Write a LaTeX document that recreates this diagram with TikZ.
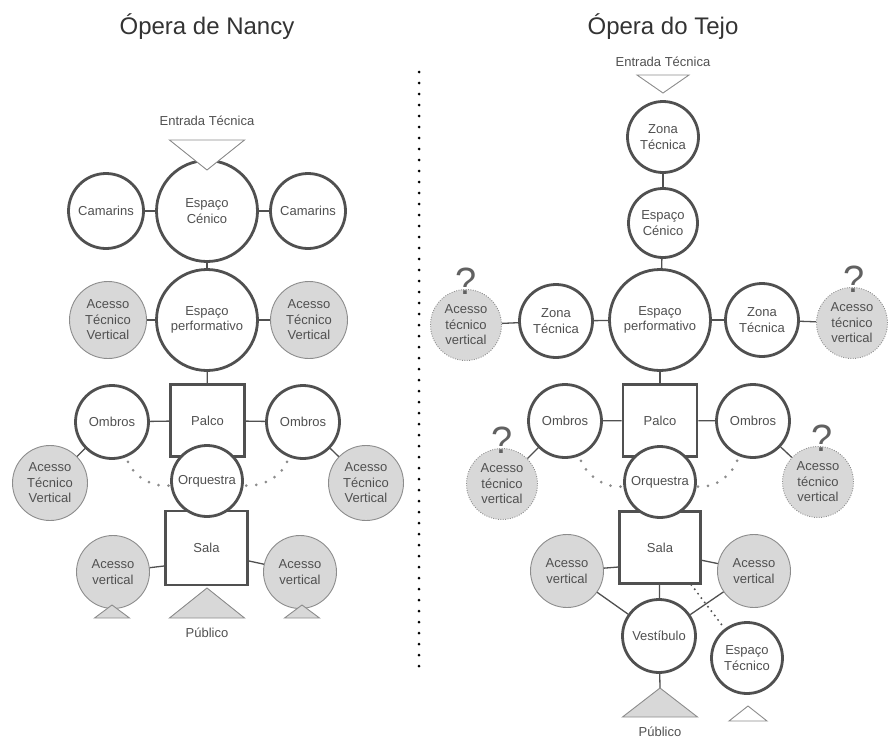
\documentclass[tikz,border=0pt]{standalone}
\usepackage{fontspec}
\setmainfont{Liberation Sans}
\usetikzlibrary{positioning}
\usetikzlibrary{calc}
\definecolor{edge}{RGB}{80,80,80}
\definecolor{ink}{RGB}{80,80,80}
\definecolor{shade}{RGB}{216,216,216}
\definecolor{rim}{RGB}{140,140,140}

\begin{document}
\begin{tikzpicture}[x=1pt, y=-1pt,
    every node/.style={font=\fontsize{13}{15.5}\selectfont, text=ink, align=center, inner sep=0pt},
    room/.style={circle, draw=edge, line width=2.8pt, fill=white, minimum size=#1},
    access/.style={circle, draw=rim, line width=0.9pt, fill=shade, minimum size=#1},
    doubt/.style={access=#1, dash pattern=on 0.9pt off 1.5pt},
    stage/.style={rectangle, draw=edge, line width=2.8pt, fill=white},
    title/.style={font=\fontsize{24}{28}\selectfont, text=black!80},
    qmark/.style={font=\fontsize{38}{38}\selectfont, text=edge!90, anchor=base},
    link/.style={draw=edge, line width=1.3pt},
    tri/.style={draw=rim, line width=0.9pt, fill=shade},
    hollow/.style={draw=rim, line width=0.9pt, fill=white},
    dotarc/.style={draw=rim, line width=3pt, line cap=round, dash pattern=on 0pt off 10pt, dash phase=5pt},
    dotline/.style={draw=edge, line width=2.2pt, line cap=round, dash pattern=on 0pt off 5.5pt},
    divider/.style={draw=black, line width=3pt, line cap=round, dash pattern=on 0pt off 11pt}]
    \useasboundingbox (0,0) rectangle (889,739);

    % titles
    \node[title] (titleL) at (207,27) {Ópera de Nancy};
    \node[title] (titleR) at (663,27) {Ópera do Tejo};

    % dotted divider
    \coordinate (divtop) at (419,72);
    \coordinate (divbot) at (419,668);
    \draw[divider] (divtop) -- (divbot);

    % Opera de Nancy: nodes
    \node[room=101] (cenL) at (207,211) {Espaço\\Cénico};
    \node[room=75] (camL1) at (106,211) {Camarins};
    \node[room=75] (camL2) at (308,211) {Camarins};
    \node[room=101] (perfL) at (207,320) {Espaço\\performativo};
    \node[access=77] (atvL1) at (108,320) {Acesso\\Técnico\\Vertical};
    \node[access=77] (atvL2) at (309,320) {Acesso\\Técnico\\Vertical};
    \node[stage, minimum width=74, minimum height=72] (palcoL) at (207.5,420.5) {Palco};
    \node[room=73] (ombL1) at (112,422) {Ombros};
    \node[room=73] (ombL2) at (303,422) {Ombros};
    \node[access=75] (atvL3) at (50,483) {Acesso\\Técnico\\Vertical};
    \node[access=75] (atvL4) at (366,483) {Acesso\\Técnico\\Vertical};
    \node[stage, minimum width=82, minimum height=74] (salaL) at (206.5,548) {Sala};
    \node[room=71] (orqL) at (207,481) {Orquestra};
    \node[access=73] (avL1) at (113,572) {Acesso\\vertical};
    \node[access=73] (avL2) at (300,572) {Acesso\\vertical};

    % Opera de Nancy: connectors
    \foreach \a/\b in {cenL/camL1, cenL/camL2, cenL/perfL, perfL/atvL1, perfL/atvL2,
                       perfL/palcoL, palcoL/ombL1, palcoL/ombL2, ombL1/atvL3, ombL2/atvL4}
      \draw[link] (\a) -- (\b);
    \draw[link] (avL1) -- (salaL.203);
    \draw[link] (salaL.343) -- (avL2);
    \draw[dotarc] (ombL1.-68) .. controls +(6,20) and +(-18,2) .. (orqL.187);
    \draw[dotarc] (ombL2.-112) .. controls +(-6,20) and +(18,2) .. (orqL.-7);

    % Opera de Nancy: triangles
    \coordinate (entLtip) at (207,170);
    \draw[hollow] (entLtip) -- ++(-37.5,-30) -- ++(75,0) -- cycle;
    \node (entLlbl) at (207,121) {Entrada Técnica};
    \coordinate (baseL1) at (112,605);
    \coordinate (baseL2) at (302,605);
    \foreach \p in {baseL1, baseL2}
      \draw[tri] (\p) -- ++(-17.5,13) -- ++(35,0) -- cycle;
    \coordinate (pubLtip) at (207,588);
    \draw[tri] (pubLtip) -- ++(-37.5,30) -- ++(75,0) -- cycle;
    \node (pubLlbl) at (207,633) {Público};

    % Opera do Tejo: nodes
    \node[room=71] (ztT) at (663,137) {Zona\\Técnica};
    \node[room=69] (cenR) at (663,223) {Espaço\\Cénico};
    \node[room=101] (perfR) at (660,320) {Espaço\\performativo};
    \node[room=73] (ztL) at (556,321) {Zona\\Técnica};
    \node[room=73] (ztR) at (762,320) {Zona\\Técnica};
    \node[doubt=71] (atvR1) at (466,325) {Acesso\\técnico\\vertical};
    \node[doubt=71] (atvR2) at (852,323) {Acesso\\técnico\\vertical};
    \node[stage, minimum width=74, minimum height=72] (palcoR) at (660,420.5) {Palco};
    \node[room=73] (ombR1) at (565,421) {Ombros};
    \node[room=73] (ombR2) at (753,421) {Ombros};
    \node[doubt=71] (atvR3) at (502,484) {Acesso\\técnico\\vertical};
    \node[doubt=71] (atvR4) at (818,482) {Acesso\\técnico\\vertical};
    \node[stage, minimum width=81, minimum height=72] (salaR) at (660,547.5) {Sala};
    \node[room=71] (orqR) at (660,482) {Orquestra};
    \node[access=73] (avR1) at (567,571) {Acesso\\vertical};
    \node[access=73] (avR2) at (754,571) {Acesso\\vertical};
    \node[room=73] (vest) at (659,636) {Vestíbulo};
    \node[room=71] (etec) at (747,658) {Espaço\\Técnico};

    % question marks
    \node[qmark] (qR1) at (466,294) {?};
    \node[qmark] (qR2) at (854,292) {?};
    \node[qmark] (qR3) at (502,453) {?};
    \node[qmark] (qR4) at (822,451) {?};

    % Opera do Tejo: connectors
    \foreach \a/\b in {ztT/cenR, cenR/perfR, perfR/ztL, perfR/ztR, ztL/atvR1, ztR/atvR2,
                       perfR/palcoR, palcoR/ombR1, palcoR/ombR2, ombR1/atvR3, ombR2/atvR4,
                       salaR/vest, avR1/vest, avR2/vest}
      \draw[link] (\a) -- (\b);
    \draw[link] (avR1) -- (salaR.205);
    \draw[link] (salaR.343) -- (avR2);
    \draw[dotline] (salaR.310) -- (etec);
    \draw[dotarc] (ombR1.-68) .. controls +(6,20) and +(-18,2) .. (orqR.187);
    \draw[dotarc] (ombR2.-112) .. controls +(-6,20) and +(18,2) .. (orqR.-7);

    % Opera do Tejo: triangles
    \coordinate (entRtip) at (663,93);
    \draw[hollow] (entRtip) -- ++(-26,-18) -- ++(52,0) -- cycle;
    \node (entRlbl) at (663,62) {Entrada Técnica};
    \coordinate (pubRtip) at (660,688);
    \draw[link] (vest) -- (pubRtip);
    \draw[tri] (pubRtip) -- ++(-37.5,29) -- ++(75,0) -- cycle;
    \node (pubRlbl) at (660,732) {Público};
    \coordinate (etecbase) at (748,706);
    \draw[hollow] (etecbase) -- ++(-19,15) -- ++(38,0) -- cycle;
\end{tikzpicture}
\end{document}
